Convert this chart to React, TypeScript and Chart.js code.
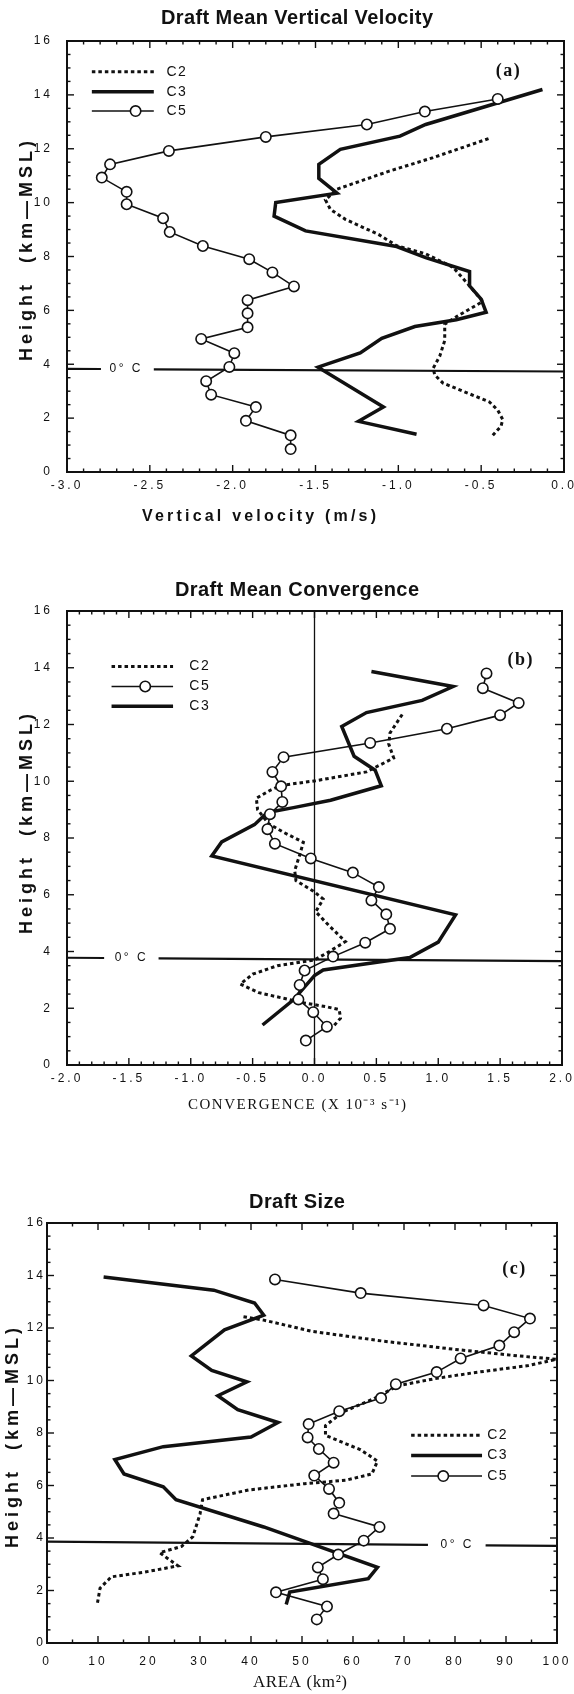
import React, { useEffect, useRef } from "react";
import { Chart, registerables } from "chart.js";

Chart.register(...registerables);

// ---------------- Panel (a): Draft Mean Vertical Velocity (m/s) ----------------
const A_C2_H = [1.36, 1.7, 1.95, 2.3, 2.6, 2.9, 3.3, 3.6, 3.85, 4.3, 4.88, 5.49, 5.8, 6.33, 6.98, 7.6, 8.1, 8.4, 8.82, 9.38, 9.75, 10.1, 10.5, 11.17, 11.67, 12.41];
const A_C2_W = [-0.43, -0.38, -0.37, -0.4, -0.45, -0.57, -0.73, -0.78, -0.79, -0.75, -0.72, -0.72, -0.64, -0.49, -0.58, -0.67, -0.835, -1.01, -1.12, -1.32, -1.41, -1.44, -1.37, -1.055, -0.79, -0.44];
const A_C3_H = [1.4, 1.88, 2.41, 3.89, 4.42, 4.96, 5.4, 5.65, 5.93, 6.42, 6.91, 7.44, 7.96, 8.37, 8.95, 9.5, 10.0, 10.35, 10.9, 11.42, 11.98, 12.47, 12.9, 14.2];
const A_C3_W = [-0.89, -1.24, -1.09, -1.485, -1.23, -1.1, -0.9, -0.65, -0.47, -0.5, -0.57, -0.57, -0.835, -1.01, -1.56, -1.75, -1.74, -1.37, -1.48, -1.48, -1.35, -0.99, -0.835, -0.13];
const A_C5_H = [0.85, 1.36, 1.9, 2.41, 2.87, 3.37, 3.9, 4.41, 4.94, 5.37, 5.89, 6.38, 6.89, 7.41, 7.9, 8.39, 8.91, 9.42, 9.94, 10.4, 10.93, 11.42, 11.92, 12.44, 12.9, 13.38, 13.85];
const A_C5_W = [-1.65, -1.65, -1.92, -1.86, -2.13, -2.16, -2.02, -1.99, -2.19, -1.91, -1.91, -1.91, -1.63, -1.76, -1.9, -2.18, -2.38, -2.42, -2.64, -2.64, -2.79, -2.74, -2.385, -1.8, -1.19, -0.84, -0.4];
const A_FREEZE = [3.83, 3.73];

// ---------------- Panel (b): Draft Mean Convergence (x 10^-3 s^-1) ----------------
const B_C2_H = [1.4, 1.65, 1.95, 2.05, 2.2, 2.35, 2.55, 2.85, 3.2, 3.5, 3.7, 4.0, 4.35, 4.9, 5.4, 5.85, 6.1, 6.5, 6.85, 7.4, 7.85, 8.2, 8.5, 9.0, 9.4, 9.7, 9.85, 10.02, 10.33, 10.82, 11.31, 11.7, 12.36];
const B_C2_C = [0.16, 0.21, 0.2, 0.1, -0.1, -0.25, -0.45, -0.6, -0.5, -0.3, 0.0, 0.12, 0.25, 0.12, 0.01, 0.07, 0.0, -0.15, -0.16, -0.12, -0.09, -0.25, -0.37, -0.46, -0.47, -0.35, -0.27, 0.01, 0.42, 0.64, 0.6, 0.61, 0.71];
const B_C3_H = [1.41, 2.3, 2.85, 3.15, 3.35, 3.79, 4.33, 5.29, 7.37, 7.86, 8.47, 8.9, 9.07, 9.33, 9.84, 10.39, 10.88, 11.93, 12.42, 12.85, 13.34, 13.87];
const B_C3_C = [-0.42, -0.17, -0.06, 0.0, 0.07, 0.77, 1.0, 1.14, -0.83, -0.75, -0.485, -0.38, -0.17, 0.13, 0.54, 0.49, 0.32, 0.22, 0.42, 0.87, 1.12, 0.46];
const B_C5_H = [0.86, 1.35, 1.86, 2.31, 2.82, 3.33, 3.82, 4.31, 4.8, 5.31, 5.8, 6.27, 6.78, 7.28, 7.8, 8.31, 8.84, 9.27, 9.82, 10.33, 10.85, 11.35, 11.85, 12.33, 12.76, 13.28, 13.8];
const B_C5_C = [-0.07, 0.1, -0.01, -0.13, -0.12, -0.08, 0.15, 0.41, 0.61, 0.58, 0.46, 0.52, 0.31, -0.03, -0.32, -0.38, -0.36, -0.26, -0.27, -0.34, -0.25, 0.45, 1.07, 1.5, 1.65, 1.36, 1.39];
const B_FREEZE = [3.78, 3.66];

// ---------------- Panel (c): Draft Size (km^2) ----------------
const C_C2_H = [1.53, 2.09, 2.4, 2.52, 2.7, 2.94, 3.13, 3.44, 3.68, 4.05, 4.91, 5.46, 5.83, 6.07, 6.2, 6.44, 6.93, 7.36, 7.91, 8.28, 8.8, 9.3, 9.8, 10.07, 10.29, 10.57, 10.81, 10.94, 11.19, 11.5, 11.87, 12.3, 12.43];
const C_C2_A = [9.9, 10.4, 12, 12.6, 19.1, 25.7, 24.3, 22.1, 26.4, 28.6, 30.0, 30.5, 39.6, 50.5, 58.6, 63.7, 64.8, 61.5, 54.6, 54.6, 58, 64, 68.8, 76.1, 83.4, 94.4, 99.9, 92.2, 79.8, 65.9, 52, 42.5, 38.5];
const C_C3_H = [1.47, 1.94, 2.45, 2.88, 4.42, 5.46, 5.95, 6.44, 6.99, 7.48, 7.85, 8.4, 8.89, 9.42, 9.95, 10.38, 10.94, 11.93, 12.49, 12.95, 13.44, 13.94];
const C_C3_A = [46.9, 47.6, 63.0, 64.8, 42.5, 25.3, 22.8, 15.1, 13.3, 22.8, 40.0, 45.3, 37.4, 33.5, 39.2, 32.3, 28.3, 34.8, 42.5, 40.7, 32.7, 11.1];
const C_C5_H = [0.9, 1.39, 1.93, 2.43, 2.88, 3.37, 3.9, 4.42, 4.93, 5.34, 5.87, 6.38, 6.87, 7.39, 7.83, 8.34, 8.83, 9.33, 9.86, 10.32, 10.84, 11.33, 11.84, 12.36, 12.86, 13.33, 13.85];
const C_C5_A = [52.9, 54.9, 44.9, 54.1, 53.1, 57.1, 62.1, 65.2, 56.2, 57.3, 55.3, 52.4, 56.2, 53.3, 51.1, 51.3, 57.3, 65.5, 68.4, 76.4, 81.1, 88.7, 91.6, 94.7, 85.6, 61.5, 44.7];
const C_FREEZE = [3.86, 3.7];

const SANS = '"Liberation Sans", Arial, sans-serif';
const SERIF = '"Liberation Serif", "Times New Roman", serif';
const INK = "#111";
const W = 574;

type Kind = "dot" | "solid" | "circle";
interface Series { label: string; kind: Kind; x: number[]; y: number[] }
interface PanelSpec {
  top: number; height: number; left: number; right: number; plotTop: number; plotBottom: number;
  xMin: number; xMax: number; xStep: number; xMinor: number; xDigits: number; xTickPad: number; yTickPad: number;
  series: Series[]; legendOrder: string[];
  legendX0: number; legendX1: number; legendCircleX: number; legendTextX: number; legendY: number[];
  title: string; titleX: number; titleY: number; yTitleX: number; yTitleY: number;
  xTitle: string; xTitleFont: string; xTitleSpacing: number; xTitleX: number; xTitleY: number;
  letter: string; letterX: number; letterY: number;
  freeze: number[]; freezeGap: number[]; freezeLabel: number; zeroLine: boolean;
}

const PANELS: PanelSpec[] = [
  {
    top: 0, height: 560, left: 67, right: 564, plotTop: 41, plotBottom: 472,
    xMin: -3, xMax: 0, xStep: 0.5, xMinor: 0.1, xDigits: 1, xTickPad: 6, yTickPad: 14,
    series: [
      { label: "C5", kind: "circle", x: A_C5_W, y: A_C5_H },
      { label: "C3", kind: "solid", x: A_C3_W, y: A_C3_H },
      { label: "C2", kind: "dot", x: A_C2_W, y: A_C2_H },
    ],
    legendOrder: ["C2", "C3", "C5"],
    legendX0: -2.85, legendX1: -2.476, legendCircleX: -2.586, legendTextX: -2.4, legendY: [14.86, 14.12, 13.4],
    title: "Draft Mean Vertical Velocity", titleX: 297, titleY: 18, yTitleX: 27, yTitleY: 251,
    xTitle: "Vertical velocity (m/s)", xTitleFont: `bold 16px ${SANS}`, xTitleSpacing: 3.2, xTitleX: 259, xTitleY: 517,
    letter: "(a)", letterX: -0.34, letterY: 14.86,
    freeze: A_FREEZE, freezeGap: [-2.795, -2.476], freezeLabel: -2.65, zeroLine: false,
  },
  {
    top: 560, height: 580, left: 67, right: 562, plotTop: 51, plotBottom: 505,
    xMin: -2, xMax: 2, xStep: 0.5, xMinor: 0.1, xDigits: 1, xTickPad: 6, yTickPad: 14,
    series: [
      { label: "C5", kind: "circle", x: B_C5_C, y: B_C5_H },
      { label: "C3", kind: "solid", x: B_C3_C, y: B_C3_H },
      { label: "C2", kind: "dot", x: B_C2_C, y: B_C2_H },
    ],
    legendOrder: ["C2", "C5", "C3"],
    legendX0: -1.64, legendX1: -1.143, legendCircleX: -1.368, legendTextX: -1.012, legendY: [14.04, 13.34, 12.64],
    title: "Draft Mean Convergence", titleX: 297, titleY: 30, yTitleX: 27, yTitleY: 264,
    xTitle: "CONVERGENCE (X 10\u207B\u00B3 s\u207B\u00B9)", xTitleFont: `15px ${SERIF}`, xTitleSpacing: 1.5, xTitleX: 297, xTitleY: 545,
    letter: "(b)", letterX: 1.66, letterY: 14.26,
    freeze: B_FREEZE, freezeGap: [-1.7, -1.26], freezeLabel: -1.49, zeroLine: true,
  },
  {
    top: 1140, height: 554, left: 47, right: 557, plotTop: 83, plotBottom: 503,
    xMin: 0, xMax: 100, xStep: 10, xMinor: 5, xDigits: 0, xTickPad: 11, yTickPad: 1,
    series: [
      { label: "C5", kind: "circle", x: C_C5_A, y: C_C5_H },
      { label: "C3", kind: "solid", x: C_C3_A, y: C_C3_H },
      { label: "C2", kind: "dot", x: C_C2_A, y: C_C2_H },
    ],
    legendOrder: ["C2", "C3", "C5"],
    legendX0: 71.4, legendX1: 85.3, legendCircleX: 77.7, legendTextX: 86.3, legendY: [7.91, 7.14, 6.36],
    title: "Draft Size", titleX: 297, titleY: 62, yTitleX: 13, yTitleY: 298,
    xTitle: "AREA (km\u00B2)", xTitleFont: `17px ${SERIF}`, xTitleSpacing: 0.6, xTitleX: 300, xTitleY: 543,
    letter: "(c)", letterX: 91.5, letterY: 14.23,
    freeze: C_FREEZE, freezeGap: [74.7, 86], freezeLabel: 80.2, zeroLine: false,
  },
];

function drawText(ctx: CanvasRenderingContext2D, s: string, x: number, y: number, font: string, spacing: number, align: CanvasTextAlign = "center", angle = 0) {
  ctx.save();
  ctx.font = font;
  (ctx as any).letterSpacing = `${spacing}px`;
  ctx.textAlign = align;
  ctx.textBaseline = "middle";
  ctx.fillStyle = INK;
  ctx.translate(x, y);
  if (angle) ctx.rotate(angle);
  const dx = align === "center" ? spacing / 2 : align === "right" ? spacing : 0;
  ctx.fillText(s, dx, 0);
  ctx.restore();
}

function seg(ctx: CanvasRenderingContext2D, x0: number, y0: number, x1: number, y1: number, w: number, dash: number[] = []) {
  ctx.save();
  ctx.strokeStyle = INK;
  ctx.lineWidth = w;
  ctx.setLineDash(dash);
  ctx.beginPath();
  ctx.moveTo(x0, y0);
  ctx.lineTo(x1, y1);
  ctx.stroke();
  ctx.restore();
}

function steps(min: number, max: number, step: number) {
  const n = Math.round((max - min) / step);
  return Array.from({ length: n + 1 }, (_, i) => min + i * step);
}

function makeDecor(spec: PanelSpec) {
  return {
    id: "decor",
    beforeDraw(chart: any) {
      (chart.ctx as any).letterSpacing = "3px";
    },
    beforeDatasetsDraw(chart: any) {
      const ctx: CanvasRenderingContext2D = chart.ctx;
      const ca = chart.chartArea;
      const xs = chart.scales.x;
      const ys = chart.scales.y;
      if (spec.zeroLine) {
        const px = xs.getPixelForValue(0);
        seg(ctx, px, ca.top, px, ca.bottom, 1.3);
      }
      const [fl, fr] = spec.freeze;
      const fy = (v: number) => ys.getPixelForValue(fl + ((fr - fl) * (v - spec.xMin)) / (spec.xMax - spec.xMin));
      const [g0, g1] = spec.freezeGap;
      seg(ctx, xs.getPixelForValue(spec.xMin), fy(spec.xMin), xs.getPixelForValue(g0), fy(g0), 2.2);
      seg(ctx, xs.getPixelForValue(g1), fy(g1), xs.getPixelForValue(spec.xMax), fy(spec.xMax), 2.2);
      drawText(ctx, "0\u00B0 C", xs.getPixelForValue(spec.freezeLabel), fy(spec.freezeLabel), `12px ${SANS}`, 2.5);
    },
    afterDatasetsDraw(chart: any) {
      const ctx: CanvasRenderingContext2D = chart.ctx;
      const ca = chart.chartArea;
      const xs = chart.scales.x;
      const ys = chart.scales.y;
      ctx.save();
      ctx.strokeStyle = INK;
      ctx.lineWidth = 2;
      ctx.setLineDash([]);
      ctx.strokeRect(ca.left, ca.top, ca.right - ca.left, ca.bottom - ca.top);
      ctx.restore();
      const isMajor = (v: number, s: number) => Math.abs(v / s - Math.round(v / s)) < 1e-6;
      for (const v of steps(spec.xMin, spec.xMax, spec.xMinor)) {
        const len = isMajor(v, spec.xStep) ? 7 : 3.5;
        const px = xs.getPixelForValue(v);
        seg(ctx, px, ca.bottom, px, ca.bottom - len, 1.4);
        seg(ctx, px, ca.top, px, ca.top + len, 1.4);
      }
      for (const v of steps(0, 16, 0.5)) {
        const len = isMajor(v, 2) ? 7 : 3.5;
        const py = ys.getPixelForValue(v);
        seg(ctx, ca.left, py, ca.left + len, py, 1.4);
        seg(ctx, ca.right, py, ca.right - len, py, 1.4);
      }
    },
    afterDraw(chart: any) {
      const ctx: CanvasRenderingContext2D = chart.ctx;
      const xs = chart.scales.x;
      const ys = chart.scales.y;
      drawText(ctx, spec.title, spec.titleX, spec.titleY, `bold 20px ${SANS}`, 0.4);
      drawText(ctx, "Height  (km\u2014MSL)", spec.yTitleX, spec.yTitleY, `bold 18px ${SANS}`, 4, "center", -Math.PI / 2);
      drawText(ctx, spec.xTitle, spec.xTitleX, spec.xTitleY, spec.xTitleFont, spec.xTitleSpacing);
      drawText(ctx, spec.letter, xs.getPixelForValue(spec.letterX), ys.getPixelForValue(spec.letterY), `bold 18px ${SERIF}`, 1.5);
      const x0 = xs.getPixelForValue(spec.legendX0);
      const x1 = xs.getPixelForValue(spec.legendX1);
      const xc = xs.getPixelForValue(spec.legendCircleX);
      const xt = xs.getPixelForValue(spec.legendTextX);
      spec.legendOrder.forEach((label, i) => {
        const s = spec.series.find((d) => d.label === label)!;
        const y = ys.getPixelForValue(spec.legendY[i]);
        if (s.kind === "dot") seg(ctx, x0, y, x1, y, 3, [3.5, 3]);
        else if (s.kind === "solid") seg(ctx, x0, y, x1, y, 3.5);
        else {
          seg(ctx, x0, y, x1, y, 1.6);
          ctx.save();
          ctx.beginPath();
          ctx.arc(xc, y, 5.2, 0, Math.PI * 2);
          ctx.fillStyle = "#fff";
          ctx.fill();
          ctx.lineWidth = 1.6;
          ctx.strokeStyle = INK;
          ctx.stroke();
          ctx.restore();
        }
        drawText(ctx, label, xt, y, `14px ${SANS}`, 1.5, "left");
      });
      (ctx as any).letterSpacing = "0px";
    },
  };
}

const STYLE: Record<Kind, any> = {
  dot: { borderWidth: 3, borderDash: [3.5, 3], pointRadius: 0, order: 2 },
  solid: { borderWidth: 3.5, pointRadius: 0, order: 1 },
  circle: { borderWidth: 1.6, pointRadius: 5.2, pointBorderWidth: 1.6, pointBackgroundColor: "#fff", pointBorderColor: INK, order: 0 },
};

function Panel({ spec }: { spec: PanelSpec }) {
  const ref = useRef<HTMLCanvasElement>(null);
  useEffect(() => {
    const canvas = ref.current!;
    const xAxisHeight = spec.height - spec.plotBottom;
    const chart = new Chart(canvas, {
      type: "scatter",
      data: {
        datasets: spec.series.map((s) => ({
          label: s.label,
          data: s.x.map((x, i) => ({ x, y: s.y[i] })),
          showLine: true,
          borderColor: INK,
          backgroundColor: INK,
          tension: 0,
          ...STYLE[s.kind],
        })),
      },
      options: {
        animation: false,
        responsive: false,
        maintainAspectRatio: false,
        devicePixelRatio: 1,
        events: [],
        layout: { padding: { left: 0, top: spec.plotTop, right: W - spec.right, bottom: 0 } },
        plugins: { legend: { display: false }, tooltip: { enabled: false }, title: { display: false } },
        scales: {
          x: {
            type: "linear",
            min: spec.xMin,
            max: spec.xMax,
            grid: { display: false, drawTicks: false },
            border: { display: false },
            ticks: {
              stepSize: spec.xStep,
              autoSkip: false,
              maxRotation: 0,
              minRotation: 0,
              padding: spec.xTickPad,
              color: INK,
              font: { family: SANS, size: 12 },
              callback: (v: any) => Number(v).toFixed(spec.xDigits),
            },
            afterFit: (s: any) => {
              s.height = xAxisHeight;
              s.paddingLeft = 0;
              s.paddingRight = 0;
            },
          },
          y: {
            type: "linear",
            min: 0,
            max: 16,
            grid: { display: false, drawTicks: false },
            border: { display: false },
            ticks: {
              stepSize: 2,
              autoSkip: false,
              padding: spec.yTickPad,
              color: INK,
              font: { family: SANS, size: 12 },
              callback: (v: any) => String(v),
            },
            afterFit: (s: any) => {
              s.width = spec.left;
              s.paddingTop = 0;
              s.paddingBottom = 0;
            },
          },
        },
      },
      plugins: [makeDecor(spec)],
    } as any);
    return () => chart.destroy();
  }, [spec]);
  return (
    <canvas
      ref={ref}
      width={W}
      height={spec.height}
      style={{ position: "absolute", left: 0, top: spec.top, width: W, height: spec.height }}
    />
  );
}

export default function App() {
  return (
    <div style={{ position: "absolute", left: 0, top: 0, width: W, height: 1694, background: "#fff" }}>
      {PANELS.map((p) => (
        <Panel key={p.letter} spec={p} />
      ))}
    </div>
  );
}
